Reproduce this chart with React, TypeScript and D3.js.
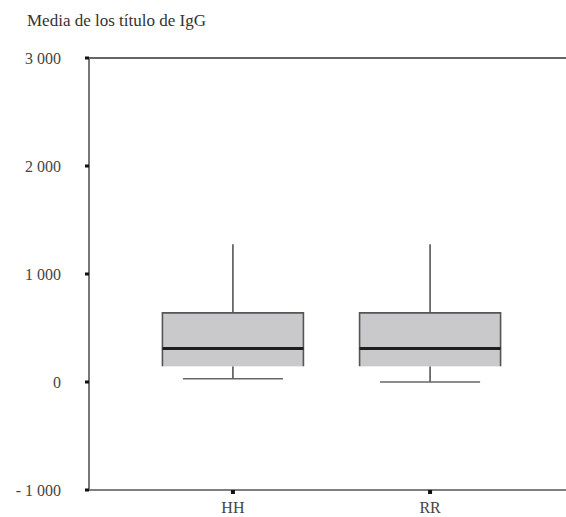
import React from 'react'
import * as d3 from 'd3'

// values
const groups = ['HH', 'RR']
const whiskerHigh = [1275, 1275]
const q3 = [640, 640]
const median = [310, 310]
const q1 = [145, 145]
const whiskerLow = [30, 0]

const yTicks = [-1000, 0, 1000, 2000, 3000]
const yTickLabels = ['- 1 000', '0', '1 000', '2 000', '3 000']

const width = 566
const height = 517
const margin = { top: 58, left: 89, bottom: 27, right: -8 }
const font = '"Liberation Serif", "Times New Roman", serif'

export default function App () {
  const x = d3.scalePoint<string>()
    .domain(groups)
    .range([margin.left, width - margin.right])
    .padding(0.73)

  const y = d3.scaleLinear()
    .domain([-1000, 3000])
    .range([height - margin.bottom, margin.top])

  const boxW = 141
  const capW = 100
  const x0 = margin.left
  const y0 = y(-1000)
  const yTop = y(3000)

  return (
    <svg width={width} height={height} style={{ position: 'absolute', left: 0, top: 0 }}>
      <rect width={width} height={height} fill='#fff' />
      <text x={27} y={26} fontFamily={font} fontSize={17} fill='#333'>Media de los título de IgG</text>

      {/* boxes */}
      {groups.map((g, i) => {
        const cx = x(g) as number
        const l = cx - boxW / 2
        const r = cx + boxW / 2
        return (
          <g key={g}>
            <line x1={cx} x2={cx} y1={y(whiskerHigh[i])} y2={y(q3[i])} stroke='#555' strokeWidth={1.6} />
            <line x1={cx} x2={cx} y1={y(q1[i])} y2={y(whiskerLow[i])} stroke='#555' strokeWidth={1.6} />
            <line x1={cx - capW / 2} x2={cx + capW / 2} y1={y(whiskerLow[i])} y2={y(whiskerLow[i])} stroke='#666' strokeWidth={1.6} />
            <rect x={l} y={y(q3[i])} width={boxW} height={y(q1[i]) - y(q3[i])} fill='#c9c9cb' />
            <path d={`M${l},${y(q1[i])}V${y(q3[i])}H${r}V${y(q1[i])}`} fill='none' stroke='#555' strokeWidth={1.6} />
            <line x1={l} x2={r} y1={y(median[i])} y2={y(median[i])} stroke='#1e1e1e' strokeWidth={3} />
          </g>
        )
      })}

      {/* frame */}
      <line x1={x0} x2={width} y1={yTop} y2={yTop} stroke='#333' strokeWidth={1.6} />
      <line x1={x0} x2={width} y1={y0} y2={y0} stroke='#555' strokeWidth={1.6} />
      <line x1={x0} x2={x0} y1={yTop} y2={y0} stroke='#777' strokeWidth={2} />

      {/* y ticks */}
      {yTicks.map((t, i) => (
        <g key={t}>
          <rect x={x0 - 4} y={y(t) - 1.5} width={4} height={3} fill='#111' />
          <text x={61} y={y(t)} dy='0.35em' textAnchor='end' fontFamily={font} fontSize={16} fill='#444'>{yTickLabels[i]}</text>
        </g>
      ))}

      {/* x ticks */}
      {groups.map(g => (
        <g key={g}>
          <rect x={(x(g) as number) - 2} y={y0} width={4} height={4} fill='#111' />
          <text x={x(g)} y={y0 + 23} textAnchor='middle' fontFamily={font} fontSize={16} fill='#444'>{g}</text>
        </g>
      ))}
    </svg>
  )
}
